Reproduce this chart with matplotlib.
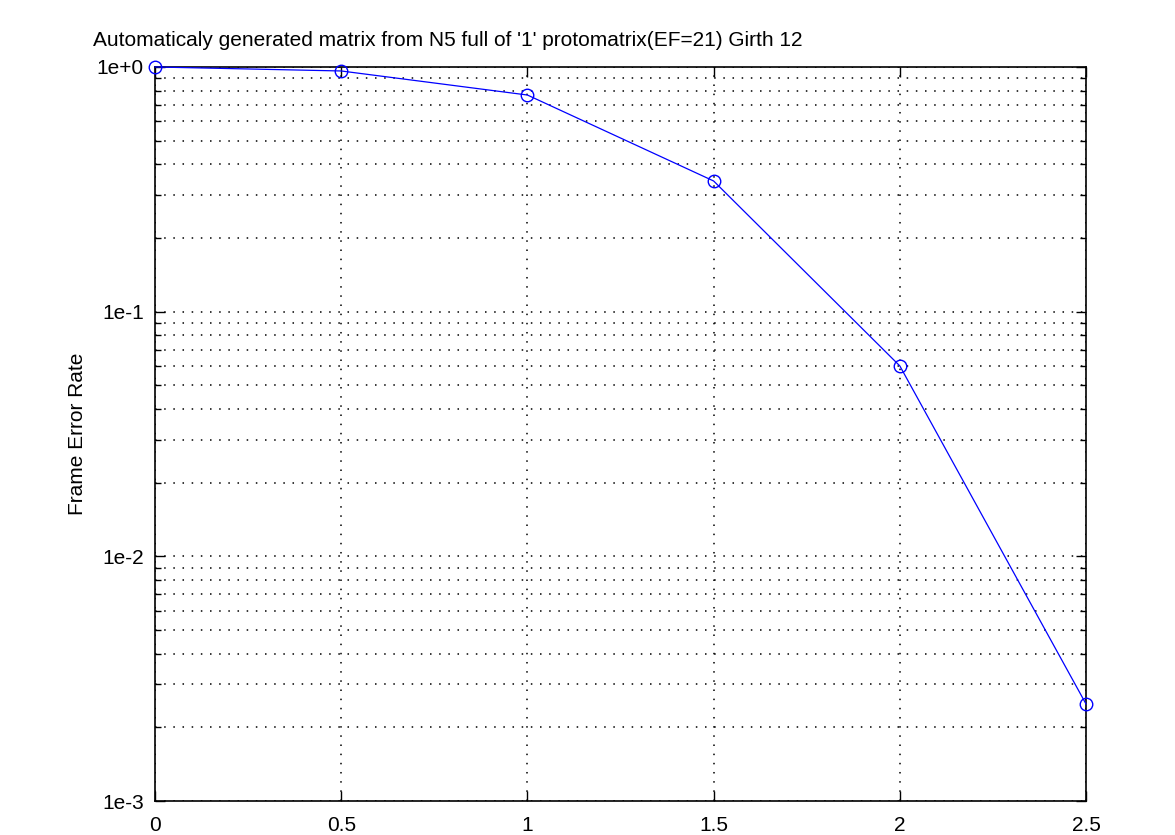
import math
import matplotlib.pyplot as plt
from matplotlib.ticker import LogLocator, FixedLocator, FuncFormatter

snr = [0, 0.5, 1, 1.5, 2, 2.5]
fer = [1.0, 0.963, 0.768, 0.342, 0.060, 0.00249]
xticks = [0, 0.5, 1, 1.5, 2, 2.5]

plt.rcParams['font.family'] = ['Liberation Sans', 'DejaVu Sans']
plt.rcParams['font.size'] = 15

fig = plt.figure(figsize=(11.75, 8.35), dpi=100)
ax = fig.add_axes([0.1319, 0.0407, 0.7924, 0.8791])

ax.semilogy(snr, fer, color='blue', lw=0.9, marker='o', ms=9,
            mfc='none', mec='blue', mew=1.0, clip_on=False, zorder=3)

ax.set_xlim(0, 2.5)
ax.set_ylim(1e-3, 1)
ax.xaxis.set_major_locator(FixedLocator(xticks))
ax.xaxis.set_major_formatter(FuncFormatter(lambda v, p: f'{v:g}'))
ax.yaxis.set_major_locator(LogLocator(base=10, numticks=10))
ax.yaxis.set_minor_locator(LogLocator(base=10, subs=range(2, 10), numticks=10))
ax.yaxis.set_major_formatter(FuncFormatter(lambda v, p: '1e%+d' % round(math.log10(v))))

# dotted grid for major and minor ticks
ax.grid(True, which='both', color='black', linestyle=(0, (1, 5)), lw=1.1)
ax.tick_params(which='both', direction='in', top=True, right=True, width=1)
ax.tick_params(which='major', length=7)
ax.tick_params(which='minor', length=4)
ax.tick_params(axis='x', pad=11)
ax.tick_params(axis='y', pad=8)
for s in ax.spines.values():
    s.set_linewidth(1.2)

ax.set_ylabel('Frame Error Rate', labelpad=7)
fig.text(93 / 1175, 1 - 40 / 835, "Automaticaly generated matrix from N5 full of '1' protomatrix(EF=21) Girth 12",
         ha='left', va='center', fontsize=15)

fig.savefig('out.png', dpi=100)
